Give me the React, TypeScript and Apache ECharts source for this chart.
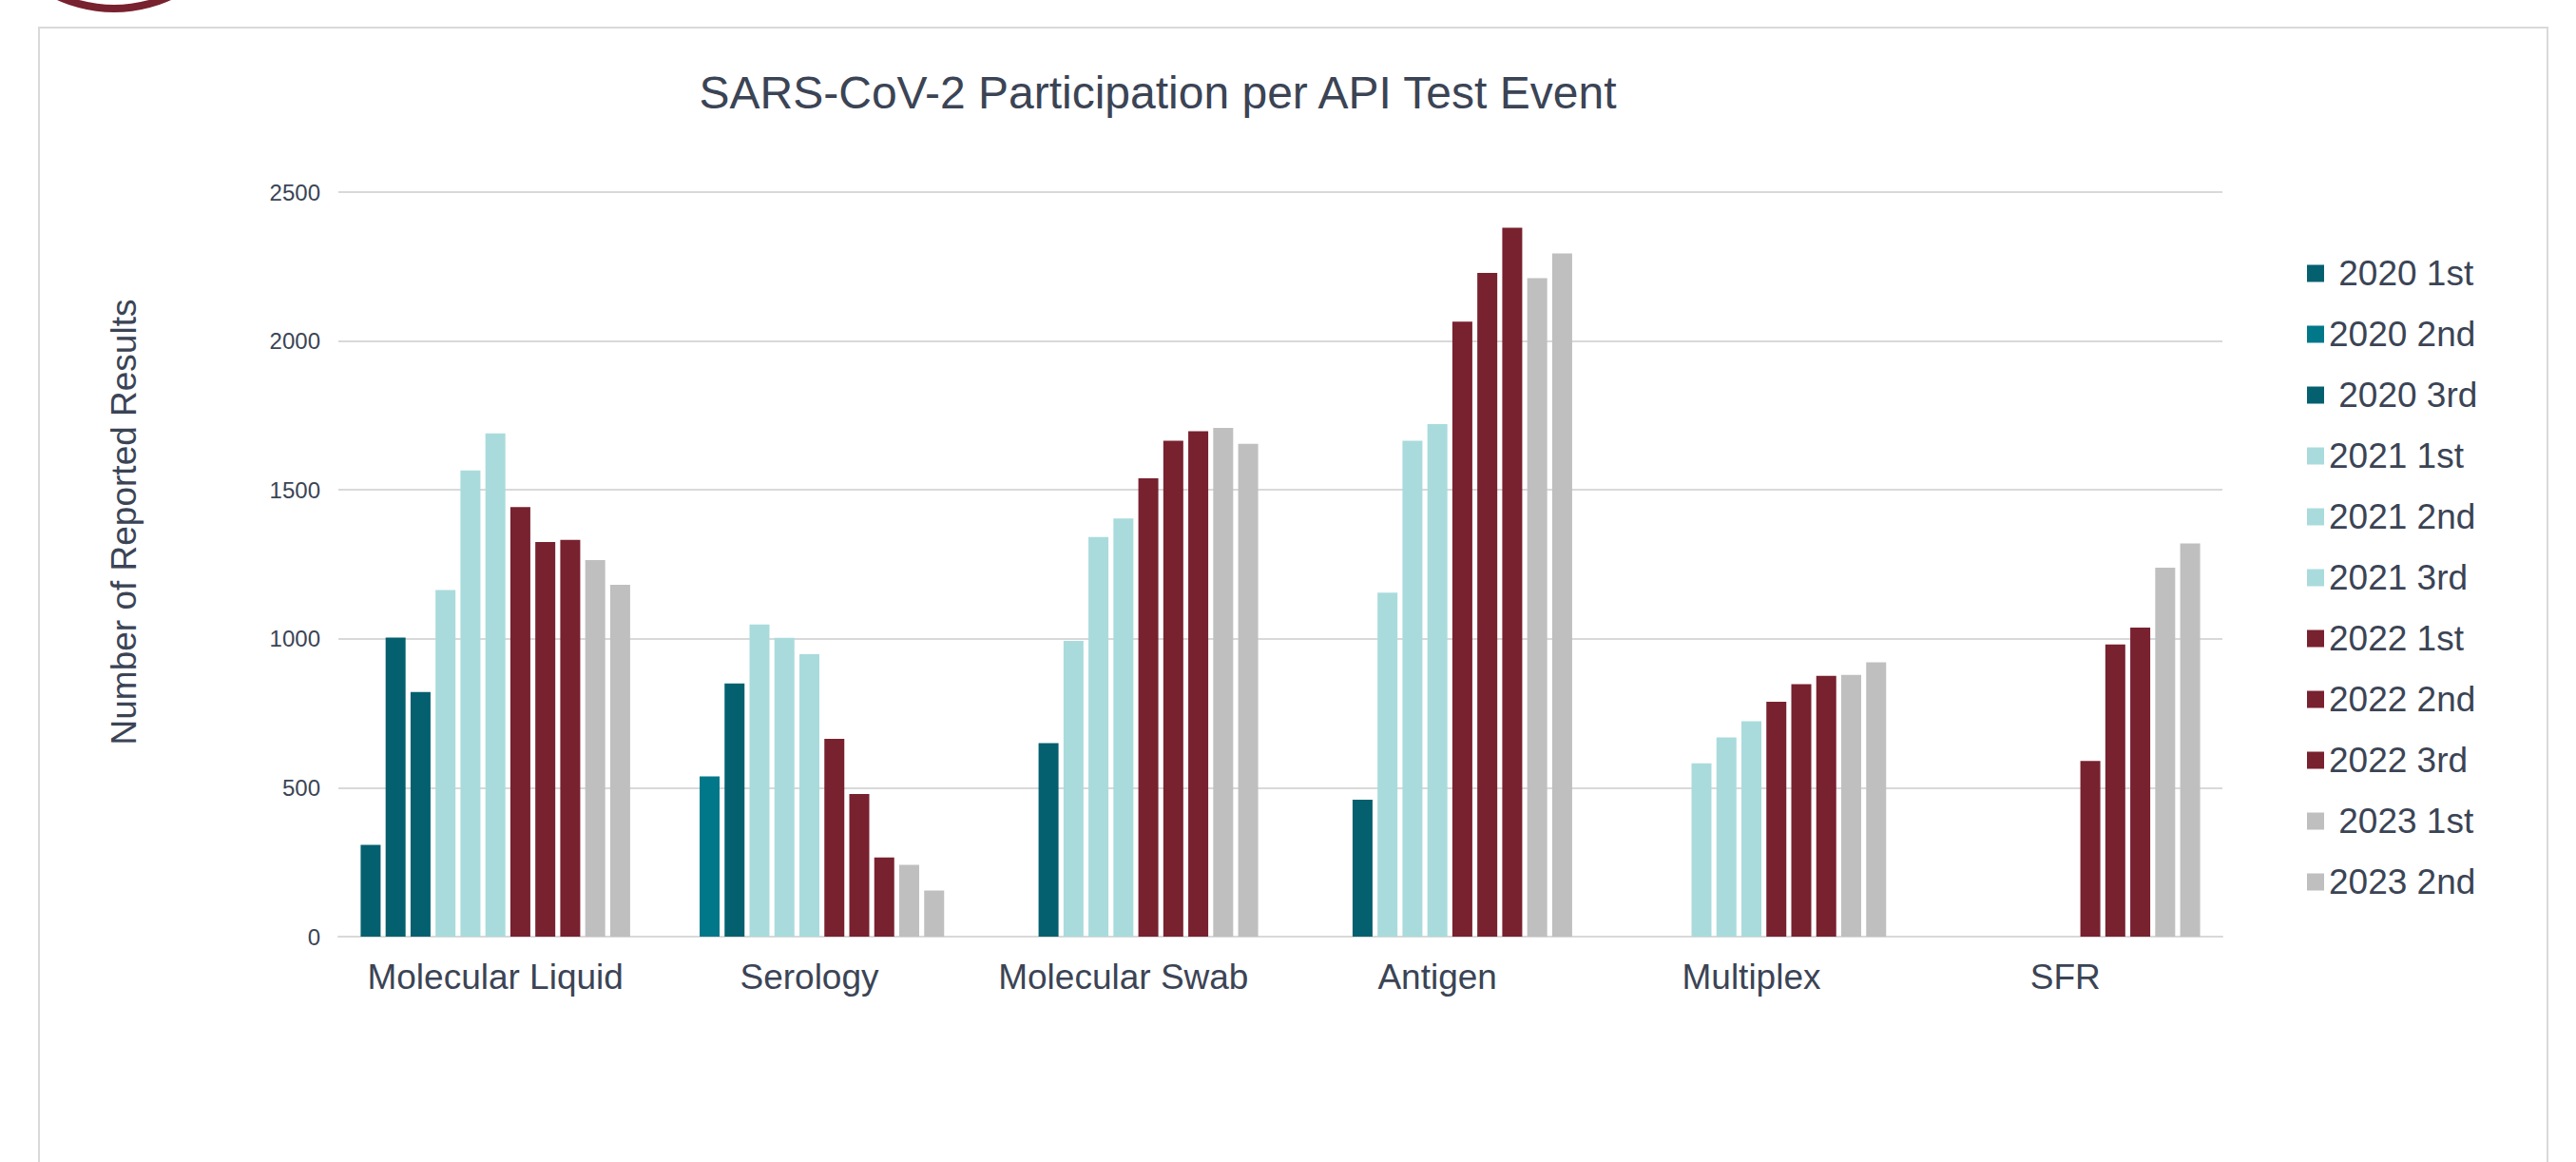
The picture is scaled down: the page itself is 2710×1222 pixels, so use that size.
import React, { useEffect, useRef } from "react";
import * as echarts from "echarts";

const categories = ["Molecular Liquid", "Serology", "Molecular Swab", "Antigen", "Multiplex", "SFR"];
const seriesNames = [" 2020 1st", "2020 2nd", " 2020 3rd", "2021 1st", "2021 2nd", "2021 3rd", "2022 1st", "2022 2nd", "2022 3rd", " 2023 1st", "2023 2nd"];
const seriesColors = ["#04606f", "#00788a", "#04606f", "#a9dbdc", "#a9dbdc", "#a9dbdc", "#78212f", "#78212f", "#78212f", "#bfbfbf", "#bfbfbf"];

const v2020_1st = [308, null, null, null, null, null];
const v2020_2nd = [1004, 538, null, null, null, null];
const v2020_3rd = [821, 850, 650, 460, null, null];
const v2021_1st = [1164, 1048, 993, 1155, 582, null];
const v2021_2nd = [1565, 1003, 1342, 1665, 669, null];
const v2021_3rd = [1690, 948, 1404, 1721, 723, null];
const v2022_1st = [1442, 664, 1539, 2065, 789, 590];
const v2022_2nd = [1325, 479, 1665, 2229, 848, 981];
const v2022_3rd = [1332, 266, 1697, 2380, 876, 1038];
const v2023_1st = [1264, 241, 1708, 2211, 879, 1239];
const v2023_2nd = [1181, 155, 1655, 2294, 921, 1320];

const allValues = [v2020_1st, v2020_2nd, v2020_3rd, v2021_1st, v2021_2nd, v2021_3rd, v2022_1st, v2022_2nd, v2022_3rd, v2023_1st, v2023_2nd];

const yTicks = [0, 500, 1000, 1500, 2000, 2500];

const TEXT = "#3b4455";
const FONT = "'Liberation Sans', Arial, sans-serif";

export default function App() {
  const ref = useRef<HTMLDivElement>(null);
  useEffect(() => {
    if (!ref.current) return;
    const chart = echarts.init(ref.current, null, { renderer: "svg" });
    chart.setOption({
      animation: false,
      backgroundColor: "#ffffff",
      graphic: [
        {
          type: "ring",
          shape: { cx: 120, cy: -132, r: 145, r0: 137 },
          style: { fill: "#78212f" },
          silent: true,
        },
        {
          type: "rect",
          shape: { x: 41, y: 29, width: 2639, height: 1300 },
          style: { fill: "none", stroke: "#d9d9d9", lineWidth: 2 },
          silent: true,
        },
        {
          type: "text",
          x: 1218,
          y: 97,
          style: {
            text: "SARS-CoV-2 Participation per API Test Event",
            textAlign: "center",
            textVerticalAlign: "middle",
            fontSize: 48,
            fontFamily: FONT,
            fill: TEXT,
          },
        },
        {
          type: "text",
          x: 130,
          y: 549,
          rotation: Math.PI / 2,
          style: {
            text: "Number of Reported Results",
            textAlign: "center",
            textVerticalAlign: "middle",
            fontSize: 37,
            fontFamily: FONT,
            fill: TEXT,
          },
        },
      ],
      legend: {
        orient: "vertical",
        left: 2422,
        top: 264,
        itemWidth: 18,
        itemHeight: 18,
        itemGap: 27,
        icon: "rect",
        textStyle: { fontSize: 37, fontFamily: FONT, color: TEXT, lineHeight: 36 },
        data: seriesNames,
      },
      grid: { left: 356, right: 372, top: 202, bottom: 237, containLabel: false },
      xAxis: {
        type: "category",
        data: categories,
        axisLine: { show: true, lineStyle: { color: "#d9d9d9", width: 2 } },
        axisTick: { show: false },
        axisLabel: { interval: 0, fontSize: 37, fontFamily: FONT, color: TEXT, margin: 24 },
      },
      yAxis: {
        type: "value",
        min: yTicks[0],
        max: yTicks[yTicks.length - 1],
        interval: 500,
        axisLine: { show: false },
        axisTick: { show: false },
        axisLabel: { fontSize: 24, fontFamily: FONT, color: TEXT, margin: 19, formatter: (v: number) => String(v) },
        splitLine: { lineStyle: { color: "#d9d9d9", width: 2 } },
      },
      series: seriesNames.map((name, i) => ({
        name,
        type: "bar",
        data: allValues[i].map((v, j) =>
          i === 1 && j === 0 ? { value: v, itemStyle: { color: "#04606f" } } : v
        ),
        barWidth: 21,
        barGap: "25%",
        itemStyle: { color: seriesColors[i] },
      })),
    });
    return () => chart.dispose();
  }, []);
  return <div ref={ref} style={{ position: "fixed", left: 0, top: 0, width: 2710, height: 1222 }} />;
}
